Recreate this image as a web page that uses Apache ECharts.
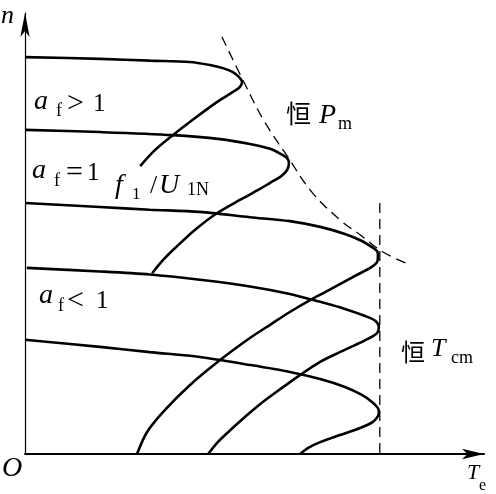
<!DOCTYPE html>
<html>
<head>
<meta charset="utf-8">
<script src="https://cdn.jsdelivr.net/npm/echarts@6/dist/echarts.min.js"></script>
<style>
  html, body { margin: 0; padding: 0; background: #fff; }
  #chart { width: 496px; height: 494px; }
</style>
</head>
<body>
<div id="chart"></div>
<script>
// speed n vs torque Te, both axes in relative units 0..100
var curveHigh2 = [[0,90.0],[16.3,89.6],[27.2,89.2],[35.9,88.9],[40.3,88.2],[43.1,87.5],[45.3,86.6],[46.6,85.5],[47.3,84.4],[46.8,83.2],[45.3,82.1],[41.8,79.8],[35.9,75.3],[32.2,72.3],[28.3,68.9],[25.1,65.3]];
var curveHigh1 = [[0,73.5],[16.3,73.0],[32.2,72.3],[42.5,71.4],[49.0,70.3],[53.4,69.2],[55.8,68.0],[57.1,67.1],[57.5,66.0],[57.1,64.4],[55.8,63.0],[53.4,61.5],[51.2,60.1],[46.8,57.6],[41.8,54.6],[37.0,50.8],[32.7,46.7],[30.1,44.0],[27.7,41.0]];
var curveRated = [[0,56.9],[16.3,56.0],[27.2,55.4],[38.1,54.9],[49.0,53.7],[57.7,52.8],[64.3,51.5],[69.7,49.9],[73.4,48.3],[75.6,46.9],[76.7,46.0],[76.9,45.1],[76.7,43.5],[75.2,42.2],[71.9,40.4],[68.6,38.5],[65.4,36.7],[62.1,34.9],[57.7,32.2],[53.4,29.3],[49.0,26.3],[42.5,21.3],[35.9,15.6],[30.5,10.0],[26.6,5.0],[24.4,0]];
var curveLow1 = [[0.4,42.2],[16.3,41.4],[27.2,40.7],[38.1,39.5],[49.0,38.0],[57.7,36.3],[64.3,34.5],[69.7,32.9],[74.1,31.3],[76.3,30.2],[77.1,28.8],[76.7,27.4],[74.7,26.1],[71.9,24.7],[68.6,23.1],[64.3,20.9],[59.9,17.9],[55.6,14.7],[51.2,11.3],[47.9,8.4],[44.7,5.4],[42.0,2.7],[39.9,0]];
var curveLow2 = [[0,25.9],[16.3,24.3],[27.2,23.1],[38.1,22.0],[49.0,20.2],[57.7,18.6],[64.3,17.0],[69.7,15.2],[73.4,13.4],[75.6,11.8],[76.9,10.4],[77.1,9.5],[76.9,8.6],[75.8,7.3],[73.0,5.9],[68.6,4.3],[64.3,2.7],[61.7,1.4],[59.9,0]];
var constPower = [[42.9,94.6],[47.9,83.9],[52.1,75.5],[57.1,67.6],[62.5,59.4],[68.6,53.1],[73.0,49.7],[78.0,45.8],[83.9,42.9]];
var constTorque = [[77.3,56.9],[77.3,0]];

var serif = '"Liberation Serif", "DejaVu Serif", serif';
var cjk = '"Noto Sans CJK SC", sans-serif';

// text piece: left x, baseline y
function txt(t, x, base, size, italic, isCjk) {
    var font = (italic ? 'italic ' : '') + size + 'px ' + (isCjk ? cjk : serif);
    return {
        type: 'text',
        x: x,
        y: isCjk ? base : base - size * 0.34,
        style: {
            text: t,
            fill: '#000',
            font: font,
            align: 'left',
            verticalAlign: 'middle',
            textAlign: 'left',
            textVerticalAlign: 'middle'
        }
    };
}

function curve(data) {
    return {
        type: 'line',
        data: data,
        showSymbol: false,
        smooth: 0.3,
        lineStyle: { color: '#000', width: 2.6 },
        z: 3
    };
}

function dashed(data, smooth) {
    return {
        type: 'line',
        data: data,
        showSymbol: false,
        smooth: smooth,
        lineStyle: { color: '#000', width: 1.3, type: [10, 6] },
        z: 2
    };
}

var chart = echarts.init(document.getElementById('chart'));
var option = {
    animation: false,
    backgroundColor: '#fff',
    grid: { left: 25, right: 12, top: 13, bottom: 40 },
    xAxis: {
        type: 'value',
        min: 0,
        max: 100,
        axisLine: { lineStyle: { color: '#000', width: 2 }, symbol: ['none', 'arrow'], symbolSize: [8, 22] },
        axisTick: { show: false },
        axisLabel: { show: false },
        splitLine: { show: false }
    },
    yAxis: {
        type: 'value',
        min: 0,
        max: 100,
        axisLine: { lineStyle: { color: '#000', width: 1.2 }, symbol: ['none', 'arrow'], symbolSize: [7, 24] },
        axisTick: { show: false },
        axisLabel: { show: false },
        splitLine: { show: false }
    },
    series: [
        curve(curveHigh2),
        curve(curveHigh1),
        curve(curveRated),
        curve(curveLow1),
        curve(curveLow2),
        dashed(constPower, 0.4),
        dashed(constTorque, false)
    ],
    graphic: [
        txt('n', 1, 25, 26, true),
        txt('O', 2, 478, 28, true),
        txt('T', 467, 481, 22, true),
        txt('e', 479, 491, 16, false),

        txt('a', 34, 111, 28, true),
        txt('f', 56, 117, 18, false),
        txt('>', 67, 114, 30, false),
        txt('1', 93, 113, 25, false),

        txt('a', 32, 180, 28, true),
        txt('f', 54, 187, 18, false),
        txt('=', 66, 183, 30, false),
        txt('1', 87, 182, 25, false),

        txt('a', 39, 305, 28, true),
        txt('f', 58, 312, 18, false),
        txt('<', 67, 311, 30, false),
        txt('1', 96, 310, 25, false),

        txt('f', 115, 195, 28, true),
        txt('1', 132, 200, 17, false),
        txt('/', 150, 195, 26, false),
        txt('U', 159, 195, 28, true),
        txt('1N', 187, 196, 18, false),

        txt('恒', 286, 113, 25, false, true),
        txt('P', 319, 125, 28, true),
        txt('m', 338, 130, 18, false),

        txt('恒', 401, 352, 24, false, true),
        txt('T', 431, 358, 26, true),
        txt('cm', 451, 364, 18, false)
    ]
};
chart.setOption(option);
</script>
</body>
</html>
